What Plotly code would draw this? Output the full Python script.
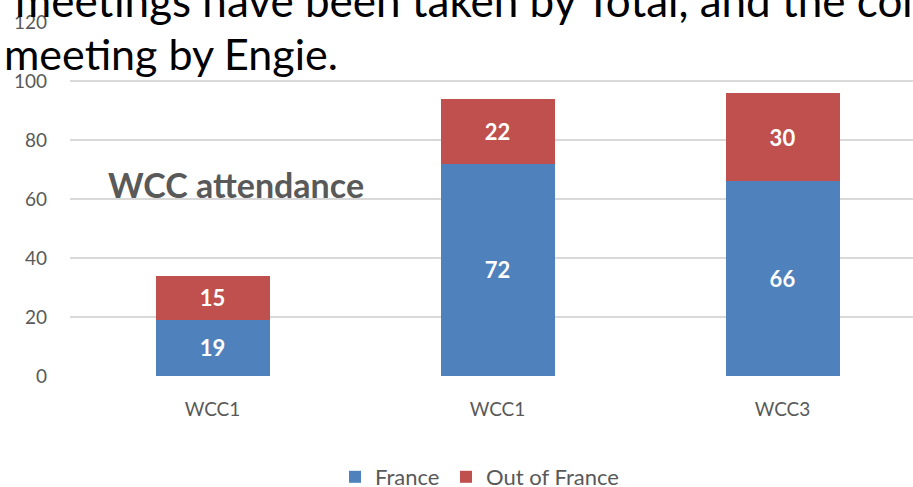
import plotly.graph_objects as go

categories = ["WCC1", "WCC1", "WCC3"]
france = [19, 72, 66]
out_of_france = [15, 22, 30]
y_ticks = [0, 20, 40, 60, 80, 100, 120]

FONT = "Lato"
GRAY = "#595959"
W, H = 913, 487
L, R_PX, T, B = 70, 913, 22, 376

def px(xp):
    return (xp - L) / (R_PX - L)

def py(yp):
    return (B - yp) / (B - T)

xs = list(range(len(categories)))

fig = go.Figure()
fig.add_trace(go.Bar(
    x=xs, y=france, name="France", width=0.4,
    marker=dict(color="#4F81BD", line=dict(width=0)),
    text=france, textposition="inside", insidetextanchor="middle",
    textfont=dict(family=FONT, size=22, color="white", weight="bold"),
    textangle=0, legend="legend",
))
fig.add_trace(go.Bar(
    x=xs, y=out_of_france, name="Out of France", width=0.4,
    marker=dict(color="#C0504D", line=dict(width=0)),
    text=out_of_france, textposition="inside", insidetextanchor="middle",
    textfont=dict(family=FONT, size=22, color="white", weight="bold"),
    textangle=0, legend="legend2",
))

legend_common = dict(
    orientation="h", xanchor="left", y=py(477), yanchor="middle",
    font=dict(family=FONT, size=22, color=GRAY),
    itemsizing="constant", bgcolor="rgba(0,0,0,0)",
)

fig.update_layout(
    width=W, height=H,
    barmode="stack",
    margin=dict(l=L, r=W - R_PX, t=T, b=H - B, pad=0, autoexpand=False),
    plot_bgcolor="white", paper_bgcolor="white",
    font=dict(family=FONT, color=GRAY),
    uniformtext=dict(minsize=8, mode="show"),
    xaxis=dict(
        range=[-0.5, -0.5 + (R_PX - L) / 285.0],
        tickmode="array", tickvals=xs, ticktext=categories,
        tickfont=dict(family=FONT, size=19, color=GRAY),
        showgrid=False, zeroline=False, showline=False, ticks="",
        ticklabelstandoff=20, automargin=False,
    ),
    yaxis=dict(
        range=[0, 120],
        tickmode="array", tickvals=y_ticks,
        tickfont=dict(family=FONT, size=19, color=GRAY),
        showgrid=True, gridcolor="#D9D9D9", gridwidth=1.5,
        zeroline=False, showline=False, ticks="",
        ticklabelstandoff=22, automargin=False,
    ),
    legend=dict(x=px(335), **legend_common),
    legend2=dict(x=px(446), **legend_common),
    showlegend=True,
)

fig.add_annotation(
    text="<b>WCC attendance</b>", xref="paper", yref="paper",
    x=px(236), y=py(184), xanchor="center", yanchor="middle",
    showarrow=False, font=dict(family=FONT, size=34, color=GRAY),
)
fig.add_annotation(
    text="meetings have been taken by Total, and the contact",
    xref="paper", yref="paper", x=px(13), y=py(0),
    xanchor="left", yanchor="middle", showarrow=False,
    font=dict(family=FONT, size=44, color="black"),
)
fig.add_annotation(
    text="meeting by Engie.",
    xref="paper", yref="paper", x=px(2), y=py(53),
    xanchor="left", yanchor="middle", showarrow=False,
    font=dict(family=FONT, size=43, color="black"),
)

fig.write_html("out.html", config={"displayModeBar": False})

# remove the browser's default page margin so the figure sits at (0, 0)
with open("out.html", "r", encoding="utf-8") as f:
    html = f.read()
html = html.replace("<head>", "<head><style>html,body{margin:0;padding:0;overflow:hidden;}</style>", 1)
with open("out.html", "w", encoding="utf-8") as f:
    f.write(html)
